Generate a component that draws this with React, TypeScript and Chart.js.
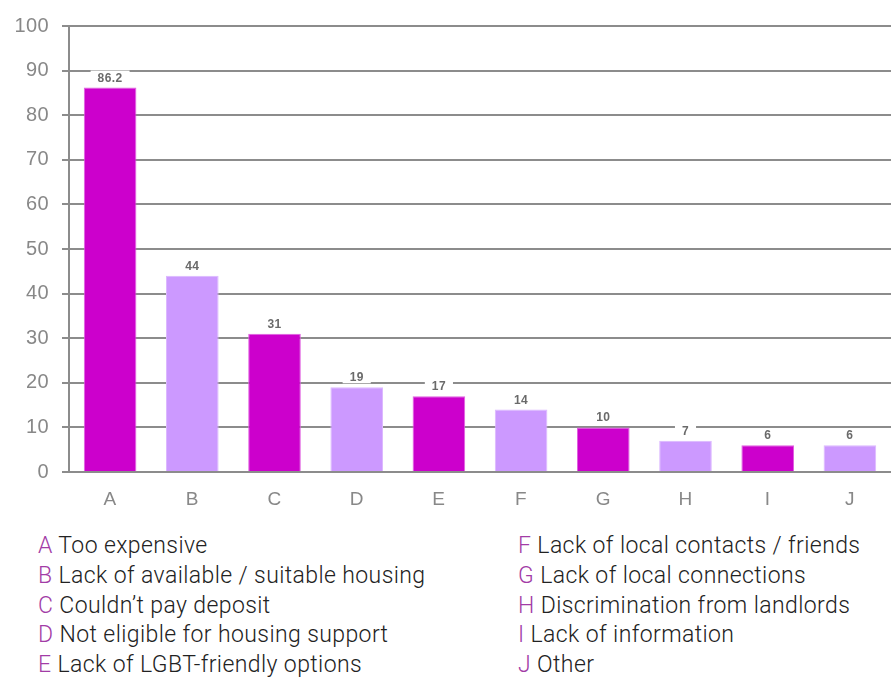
import React, { useEffect, useRef } from "react";
import { Chart, registerables } from "chart.js";

Chart.register(...registerables);

const categories = ["A", "B", "C", "D", "E", "F", "G", "H", "I", "J"];
const values = [86.2, 44, 31, 19, 17, 14, 10, 7, 6, 6];
const valueLabels = ["86.2", "44", "31", "19", "17", "14", "10", "7", "6", "6"];
const barColors = ["#cc00cc", "#cc99ff", "#cc00cc", "#cc99ff", "#cc00cc", "#cc99ff", "#cc00cc", "#cc99ff", "#cc00cc", "#cc99ff"];
const barBorders = ["#e060e0", "#dcb8ff", "#e060e0", "#dcb8ff", "#e060e0", "#dcb8ff", "#e060e0", "#dcb8ff", "#e060e0", "#dcb8ff"];
const yTicks = [0, 10, 20, 30, 40, 50, 60, 70, 80, 90, 100];
const legendLeft = [
  ["A", "Too expensive"],
  ["B", "Lack of available / suitable housing"],
  ["C", "Couldn\u2019t pay deposit"],
  ["D", "Not eligible for housing support"],
  ["E", "Lack of LGBT-friendly options"],
];
const legendRight = [
  ["F", "Lack of local contacts / friends"],
  ["G", "Lack of local connections"],
  ["H", "Discrimination from landlords"],
  ["I", "Lack of information"],
  ["J", "Other"],
];

const GRID = "#8c8c8c";

const labelPlugin = {
  id: "valueLabels",
  afterDatasetsDraw(chart: any) {
    const ctx = chart.ctx;
    const meta = chart.getDatasetMeta(0);
    ctx.save();
    ctx.font = "bold 12px 'Liberation Sans Narrow', 'Liberation Sans', Arial, sans-serif";
    ctx.textAlign = "center";
    ctx.textBaseline = "alphabetic";
    meta.data.forEach((bar: any, i: number) => {
      const t = valueLabels[i];
      const w = ctx.measureText(t).width;
      const x = bar.x;
      const y = bar.y - 6;
      ctx.fillStyle = "#ffffff";
      ctx.fillRect(x - w / 2 - 7, y - 11, w + 14, 13);
      ctx.fillStyle = "#6a6a6a";
      ctx.fillText(t, x, y);
    });
    ctx.restore();
  },
};

function Legend({ items, left }: { items: string[][]; left: number }) {
  return (
    <div style={{ position: "absolute", left, top: 531 }}>
      {items.map(([k, t]) => (
        <div key={k} style={{ height: 29.8, lineHeight: "29.8px", whiteSpace: "nowrap" }}>
          <span style={{ color: "#a23ca6" }}>{k}</span>
          <span style={{ color: "#222222" }}> {t}</span>
        </div>
      ))}
    </div>
  );
}

export default function App() {
  const ref = useRef<HTMLCanvasElement>(null);
  useEffect(() => {
    if (!ref.current) return;
    const chart = new Chart(ref.current, {
      type: "bar",
      data: {
        labels: categories,
        datasets: [
          {
            data: values,
            backgroundColor: barColors,
            borderColor: barBorders,
            borderWidth: 1,
            categoryPercentage: 1,
            barPercentage: 0.64,
          },
        ],
      },
      plugins: [labelPlugin],
      options: {
        animation: false,
        responsive: false,
        maintainAspectRatio: false,
        layout: { padding: { top: 26, right: 0, left: 0, bottom: 0 } },
        plugins: { legend: { display: false }, tooltip: { enabled: false } },
        scales: {
          x: {
            grid: { display: false },
            border: { display: false },
            ticks: {
              color: "#888888",
              font: { family: "'Liberation Sans', Arial, sans-serif", size: 19 },
              padding: 8,
            },
            afterFit: (s: any) => {
              s.height = 33;
            },
          },
          y: {
            min: 0,
            max: 100,
            afterBuildTicks: (s: any) => {
              s.ticks = yTicks.map((v) => ({ value: v }));
            },
            grid: { color: GRID, lineWidth: 2, tickLength: 7, drawTicks: true },
            border: { display: true, color: GRID, width: 2 },
            ticks: {
              color: "#888888",
              font: { family: "'Liberation Sans', Arial, sans-serif", size: 20 },
              padding: 13,
            },
            afterFit: (s: any) => {
              s.width = 69;
            },
          },
        },
      },
    });
    return () => chart.destroy();
  }, []);
  return (
    <div style={{ position: "absolute", left: 0, top: 0, width: 891, height: 677, background: "#fff", fontFamily: "Roboto, sans-serif", fontWeight: 300, fontSize: 23, letterSpacing: 0.4 }}>
      <canvas ref={ref} width={891} height={505} style={{ display: "block" }} />
      <Legend items={legendLeft} left={38} />
      <Legend items={legendRight} left={518} />
    </div>
  );
}
